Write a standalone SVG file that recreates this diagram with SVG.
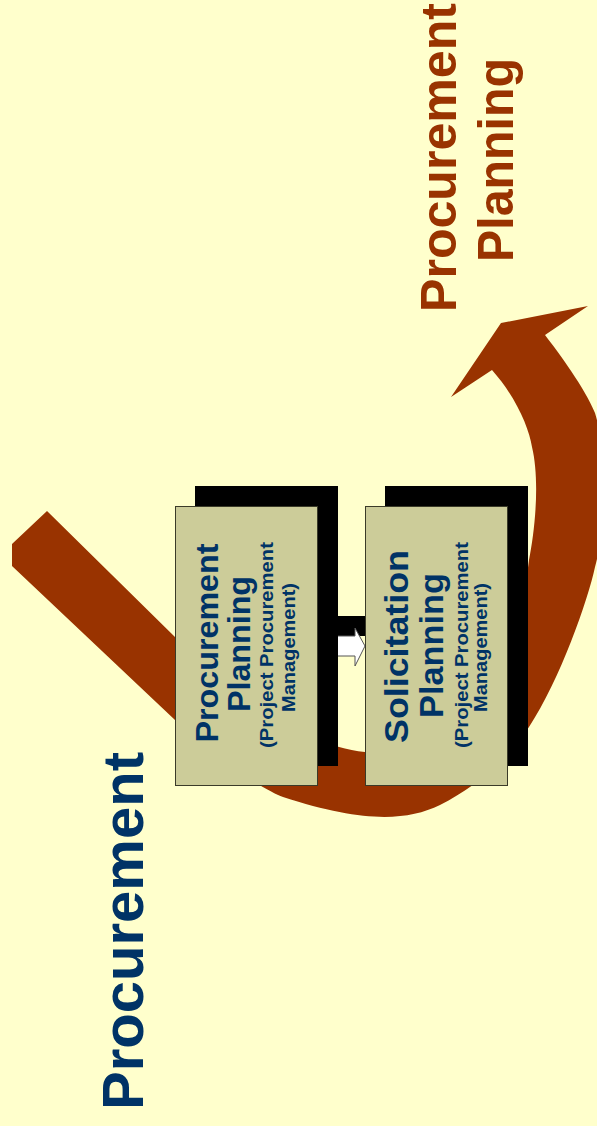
<svg xmlns="http://www.w3.org/2000/svg" width="597" height="1126" viewBox="0 0 597 1126">
  <style>
    text { font-family: "Liberation Sans", Arial, sans-serif; font-weight: bold; text-anchor: middle; }
    .navy { fill: #003366; }
    .brown { fill: #993300; }
    .box { fill: #CCCC99; stroke: #3a3a28; stroke-width: 1; }
    .shadow { fill: #000000; }
    .big { font-size: 32px; }
    .small { font-size: 18px; }
  </style>
  <rect x="0" y="0" width="597" height="1126" fill="#FFFFCC"/>

  <g id="connectors">
    <path id="curved-arrow" fill="#993300" d="M 12,544 L 47,511 L 175,637 C 235,696 305,746 365,752 C 445,760 519,650 529,560 C 535,530 540,480 532,447 C 529,428 516,397 492,370 L 451,397 L 501,323 L 588,306 L 545,335 C 558,352 585,388 595,413 C 605,445 608,520 595,567 C 588,600 560,680 529,727 C 510,755 480,785 440,805 C 405,822 360,822 283,797 C 265,790 215,760 175,720 L 12,566 Z"/>
    <g id="flow-arrow">
      <polygon class="shadow" points="337,616 375,616 375,608 385,626 375,646 375,636 337,636"/>
      <polygon fill="#FFFFFF" stroke="#555555" stroke-width="1" points="317,636 355,636 355,628 365,646 355,666 355,656 317,656"/>
    </g>
  </g>

  <g id="node-procurement-planning">
    <rect class="shadow" x="195" y="486" width="143" height="280"/>
    <rect class="box" x="175.5" y="506.5" width="142" height="279"/>
    <text class="navy big" transform="translate(218,643) rotate(-90)" textLength="199" lengthAdjust="spacingAndGlyphs">Procurement</text>
    <text class="navy big" transform="translate(250,644) rotate(-90)" textLength="136" lengthAdjust="spacingAndGlyphs">Planning</text>
    <text class="navy small" transform="translate(273,645) rotate(-90)" textLength="206" lengthAdjust="spacingAndGlyphs">(Project Procurement</text>
    <text class="navy small" transform="translate(295,647.5) rotate(-90)" textLength="129" lengthAdjust="spacingAndGlyphs">Management)</text>
  </g>

  <g id="node-solicitation-planning">
    <rect class="shadow" x="385" y="486" width="143" height="280"/>
    <rect class="box" x="365.5" y="506.5" width="142" height="279"/>
    <text class="navy" font-size="34" transform="translate(408,646.5) rotate(-90)" textLength="193" lengthAdjust="spacingAndGlyphs">Solicitation</text>
    <text class="navy" font-size="34" transform="translate(443,645.5) rotate(-90)" textLength="145" lengthAdjust="spacingAndGlyphs">Planning</text>
    <text class="navy small" transform="translate(468,645) rotate(-90)" textLength="206" lengthAdjust="spacingAndGlyphs">(Project Procurement</text>
    <text class="navy small" transform="translate(487,647.5) rotate(-90)" textLength="129" lengthAdjust="spacingAndGlyphs">Management)</text>
  </g>

  <g id="label-procurement-planning">
    <text class="brown" font-size="50" transform="translate(456,157.5) rotate(-90)" textLength="309" lengthAdjust="spacingAndGlyphs">Procurement</text>
    <text class="brown" font-size="50" transform="translate(513,160) rotate(-90)" textLength="204" lengthAdjust="spacingAndGlyphs">Planning</text>
  </g>

  <g id="title">
    <text class="navy" font-size="58" transform="translate(143,931) rotate(-90)" textLength="358" lengthAdjust="spacingAndGlyphs">Procurement</text>
  </g>
</svg>
